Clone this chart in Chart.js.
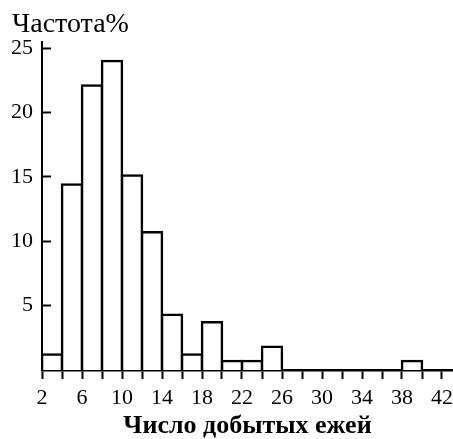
<!DOCTYPE html>
<html>
<head>
<meta charset="utf-8">
<script src="https://cdn.jsdelivr.net/npm/chart.js@4/dist/chart.umd.min.js"></script>
<style>
html,body{margin:0;padding:0;background:#fff;}
canvas{display:block;}
</style>
</head>
<body>
<canvas id="c" width="453" height="439"></canvas>
<script>
// Bin centres (bins of width 2 from 2 to 42)
const binCenters = [3, 5, 7, 9, 11, 13, 15, 17, 19, 21, 23, 25, 27, 29, 31, 33, 35, 37, 39, 41];
// Frequency, %
const frequency = [1.2, 14.4, 22.1, 24.0, 15.1, 10.7, 4.3, 1.2, 3.7, 0.7, 0.7, 1.8, 0, 0, 0, 0, 0, 0, 0.7, 0];
const xTickValues = [2, 4, 6, 8, 10, 12, 14, 16, 18, 20, 22, 24, 26, 28, 30, 32, 34, 36, 38, 40, 42];
const xTickLabels = [2, 6, 10, 14, 18, 22, 26, 30, 34, 38, 42];
const yTickLabels = [5, 10, 15, 20, 25];
const yTitle = 'Частота%';
const xTitle = 'Число добытых ежей';

const serif = "'Liberation Serif', 'DejaVu Serif', serif";

new Chart(document.getElementById('c'), {
  type: 'bar',
  data: {
    datasets: [{
      data: binCenters.map((x, i) => ({x: x, y: frequency[i]})).filter(p => p.y > 0),
      backgroundColor: '#ffffff',
      borderColor: '#000000',
      borderWidth: 2.5,
      inflateAmount: 1.25,
      borderSkipped: 'start',
      barPercentage: 1,
      categoryPercentage: 1
    }]
  },
  options: {
    responsive: false,
    animation: false,
    devicePixelRatio: 1,
    layout: {padding: {left: 12, top: 0, right: 0, bottom: 0}},
    plugins: {
      legend: {display: false},
      tooltip: {enabled: false},
      title: {
        display: true,
        text: yTitle,
        align: 'start',
        color: '#000',
        font: {family: serif, size: 28, weight: 'normal', lineHeight: 1.0},
        padding: {top: 11, bottom: 3}
      }
    },
    scales: {
      x: {
        type: 'linear',
        min: 2,
        max: 43.1,
        offset: false,
        z: 1,
        afterBuildTicks: s => { s.ticks = xTickValues.map(v => ({value: v})); },
        afterFit: s => { s.height = 69; s.paddingRight = 0; s.paddingLeft = 0; },
        border: {display: true, color: '#000', width: 2.5},
        grid: {display: true, offset: false, drawOnChartArea: false, drawTicks: true, tickLength: 9, tickWidth: 2, tickColor: '#000'},
        ticks: {
          color: '#000',
          padding: 6,
          maxRotation: 0,
          autoSkip: false,
          font: {family: serif, size: 22},
          callback: v => xTickLabels.includes(v) ? String(v) : ''
        },
        title: {
          display: true,
          text: xTitle,
          color: '#000',
          font: {family: serif, size: 26, weight: 'bold', lineHeight: 1.0},
          padding: {top: 0, bottom: 0}
        }
      },
      y: {
        type: 'linear',
        min: 0,
        max: 25.47,
        afterBuildTicks: s => { s.ticks = yTickLabels.map(v => ({value: v})); },
        afterFit: s => { s.width = 30; },
        border: {display: true, color: '#000', width: 2},
        grid: {display: true, drawOnChartArea: false, drawTicks: true, tickLength: -9, tickWidth: 2, tickColor: '#000'},
        ticks: {
          color: '#000',
          padding: 18,
          font: {family: serif, size: 22}
        }
      }
    }
  }
});
</script>
</body>
</html>
